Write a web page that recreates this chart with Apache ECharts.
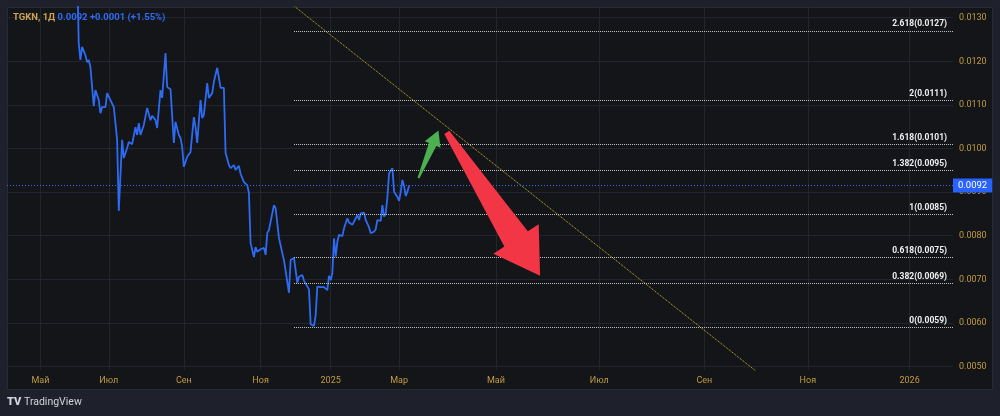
<!DOCTYPE html>
<html>
<head>
<meta charset="utf-8">
<title>TGKN</title>
<script src="https://cdn.jsdelivr.net/npm/echarts@6/dist/echarts.min.js"></script>
<style>
  html, body { margin: 0; padding: 0; background: #1e212b; }
  #chart { width: 1000px; height: 416px; }
</style>
</head>
<body>
<div id="chart"></div>
<script>
// bar index on the x axis (one slot per bar, as the source chart spaces them)
const monthDays = [20, 61, 106, 152, 194, 235, 293, 355, 418, 480, 541];
const monthNames = ['Май', 'Июл', 'Сен', 'Ноя', '2025', 'Мар', 'Май', 'Июл', 'Сен', 'Ноя', '2026'];
const yTicks = [0.005, 0.006, 0.007, 0.008, 0.009, 0.010, 0.011, 0.012, 0.013];

// TGKN daily close
const priceDays = [42, 43, 44, 45, 47, 48, 49, 50, 52, 53, 55, 56, 57, 59, 60, 61, 64, 65, 66, 67,
  69, 70, 72, 73, 75, 77, 78, 79, 80, 82, 84, 85, 86, 87, 89, 90, 92, 93, 95, 96,
  98, 100, 101, 103, 104, 105, 106, 108, 109, 110, 112, 113, 114, 116, 117, 118, 120, 121, 123, 124,
  126, 128, 130, 131, 133, 134, 136, 137, 139, 140, 141, 142, 144, 145, 146, 148, 149, 150, 152, 154,
  155, 156, 157, 160, 161, 163, 165, 166, 169, 170, 172, 173, 174, 175, 176, 177, 178, 179, 181, 182,
  184, 185, 186, 187, 188, 190, 192, 193, 194, 195, 196, 197, 198, 199, 201, 202, 204, 205, 206, 207,
  209, 210, 211, 212, 214, 215, 216, 217, 218, 220, 221, 222, 224, 225, 226, 227, 228, 229, 231, 232,
  234, 235, 236, 237, 238, 239, 240, 241];
const priceValues = [0.01420, 0.01242, 0.01203, 0.01233, 0.01214, 0.01198, 0.01203, 0.01187, 0.01097, 0.01134,
  0.01111, 0.01081, 0.01095, 0.01095, 0.01127, 0.01131, 0.01095, 0.01058, 0.01020, 0.00857,
  0.01020, 0.00978, 0.01001, 0.01015, 0.01010, 0.01049, 0.01031, 0.01058, 0.01031, 0.01054,
  0.01093, 0.01095, 0.01065, 0.01075, 0.01065, 0.01047, 0.01134, 0.01116, 0.01219, 0.01141,
  0.01136, 0.01013, 0.01061, 0.01031, 0.01024, 0.01003, 0.00958, 0.00981, 0.00985, 0.00992,
  0.01072, 0.01049, 0.01013, 0.01111, 0.01070, 0.01077, 0.01150, 0.01116, 0.01127, 0.01153,
  0.01185, 0.01139, 0.01139, 0.00990, 0.00962, 0.00955, 0.00962, 0.00951, 0.00960, 0.00942,
  0.00942, 0.00923, 0.00916, 0.00898, 0.00783, 0.00751, 0.00774, 0.00763, 0.00769, 0.00772,
  0.00756, 0.00806, 0.00813, 0.00870, 0.00863, 0.00795, 0.00760, 0.00744, 0.00669, 0.00744,
  0.00749, 0.00721, 0.00692, 0.00706, 0.00702, 0.00710, 0.00697, 0.00695, 0.00677, 0.00597,
  0.00593, 0.00618, 0.00683, 0.00687, 0.00682, 0.00682, 0.00675, 0.00708, 0.00698, 0.00714,
  0.00794, 0.00752, 0.00786, 0.00802, 0.00799, 0.00817, 0.00840, 0.00830, 0.00834, 0.00825,
  0.00840, 0.00847, 0.00836, 0.00851, 0.00853, 0.00836, 0.00828, 0.00819, 0.00806, 0.00809,
  0.00815, 0.00836, 0.00834, 0.00870, 0.00844, 0.00851, 0.00889, 0.00943, 0.00955, 0.00901,
  0.00889, 0.00880, 0.00901, 0.00928, 0.00914, 0.00891, 0.00901, 0.00915];

const lastPrice = 0.00915;
const lastLabel = '0.0092';
const changeLabel = '+0.0001 (+1.55%)';

// fibonacci extension drawn from the low
const fibRatios = ['0', '0.382', '0.618', '1', '1.382', '1.618', '2', '2.618'];
const fibValues = [0.0059, 0.0069, 0.0075, 0.0085, 0.0095, 0.0101, 0.0111, 0.0127];
const fibStartDay = 172;

// descending trend line (two anchors) and the two drawn arrows: [tailDay, tailPrice, tipDay, tipPrice]
const trendDays = [160, 460];
const trendValues = [0.01363, 0.00456];
const arrowUp = [246.6, 0.00932, 258.6, 0.01041];
const arrowDown = [263.6, 0.01037, 319.5, 0.00708];

const xMax = 567;
const yMin = 0.00492;
const yMax = 0.013245;

const gold = '#c29b3e';
const blue = '#2962ff';
const font = 'Roboto, "Liberation Sans", sans-serif';

// arrow shapes in pixels: tail width, shaft width at head, head width, head length
const arrowShapes = [
  { tail: 2, shaft: 8, headWidth: 17, head: 15 },
  { tail: 6, shaft: 28, headWidth: 54, head: 44 }
];

function renderArrow(params, api) {
  const tail = api.coord([api.value(0), api.value(1)]);
  const tip = api.coord([api.value(2), api.value(3)]);
  const s = arrowShapes[params.dataIndex];
  const dx = tip[0] - tail[0], dy = tip[1] - tail[1];
  const len = Math.sqrt(dx * dx + dy * dy);
  const ux = dx / len, uy = dy / len;
  const nx = -uy, ny = ux;
  const bx = tip[0] - ux * s.head, by = tip[1] - uy * s.head;
  const side = (x, y, w) => [x + nx * w / 2, y + ny * w / 2];
  const points = [
    side(tail[0], tail[1], s.tail),
    side(bx, by, s.shaft),
    side(bx, by, s.headWidth),
    tip,
    side(bx, by, -s.headWidth),
    side(bx, by, -s.shaft),
    side(tail[0], tail[1], -s.tail)
  ];
  return {
    type: 'polygon',
    shape: { points: points },
    style: { fill: api.visual('color') }
  };
}

const chart = echarts.init(document.getElementById('chart'));

const option = {
  backgroundColor: '#1e212b',
  animation: false,
  textStyle: { fontFamily: font },
  title: {
    left: 13,
    top: 13,
    padding: 0,
    text: '{a|TGKN, 1Д} {b|' + lastLabel + '} {b|' + changeLabel + '}',
    textStyle: {
      fontSize: 9.5,
      rich: {
        a: { color: '#c9a452', fontSize: 9.5, fontFamily: font },
        b: { color: '#2f6cf2', fontSize: 9.5, fontFamily: font }
      }
    }
  },
  graphic: {
    elements: [
      {
        type: 'rect',
        z: -10,
        shape: { x: 7.5, y: 7.5, width: 985, height: 382 },
        style: { fill: '#131519', stroke: '#262a33', lineWidth: 1 }
      },
      {
        type: 'text',
        left: 7,
        top: 397,
        style: { text: 'TV', fill: '#d1d4dc', fontSize: 11, fontWeight: 900, fontFamily: font }
      },
      {
        type: 'text',
        left: 24,
        top: 397,
        style: { text: 'TradingView', fill: '#d1d4dc', fontSize: 10.5, fontFamily: font }
      }
    ]
  },
  grid: { left: 7, right: 47, top: 7, bottom: 46, containLabel: false },
  xAxis: {
    type: 'value',
    min: 0,
    max: xMax,
    axisLine: { show: false },
    axisTick: { show: false, customValues: monthDays },
    splitLine: { show: true, lineStyle: { color: '#22252d', width: 1 } },
    axisLabel: {
      customValues: monthDays,
      color: gold,
      fontSize: 9,
      margin: 6,
      formatter: function (v) {
        const i = monthDays.indexOf(v);
        return i >= 0 ? monthNames[i] : '';
      }
    }
  },
  yAxis: {
    type: 'value',
    position: 'right',
    min: yMin,
    max: yMax,
    axisLine: { show: false },
    axisTick: { show: false, customValues: yTicks },
    splitLine: { show: true, lineStyle: { color: '#22252d', width: 1 } },
    axisLabel: {
      customValues: yTicks,
      color: gold,
      fontSize: 9,
      margin: 6,
      formatter: function (v) { return v.toFixed(4); }
    }
  },
  series: [
    {
      name: 'fib',
      type: 'line',
      data: [],
      silent: true,
      markLine: {
        silent: true,
        precision: 6,
        symbol: ['none', 'none'],
        lineStyle: { type: 'dotted', color: 'rgba(225,225,225,0.85)', width: 1 },
        label: {
          show: true,
          position: 'insideEndTop',
          distance: [6, 2],
          color: '#f0f0f0',
          fontSize: 8.5,
          fontWeight: 'bold',
          fontFamily: font
        },
        data: fibValues.map(function (v, i) {
          return [
            { coord: [fibStartDay, v], label: { formatter: fibRatios[i] + '(' + v.toFixed(4) + ')' } },
            { coord: [xMax, v] }
          ];
        })
      }
    },
    {
      name: 'trend',
      type: 'line',
      data: trendDays.map(function (d, i) { return [d, trendValues[i]]; }),
      showSymbol: false,
      silent: true,
      lineStyle: { type: 'dotted', color: '#d2bf2a', width: 1 }
    },
    {
      name: 'last',
      type: 'line',
      data: [[0, lastPrice], [xMax, lastPrice]],
      showSymbol: false,
      silent: true,
      clip: false,
      lineStyle: { type: [1, 2], color: '#3b70ff', width: 1 },
      endLabel: {
        show: true,
        distance: 0,
        formatter: lastLabel,
        color: '#ffffff',
        backgroundColor: blue,
        padding: [2, 5, 2, 5],
        fontSize: 9.5,
        fontFamily: font
      }
    },
    {
      name: 'TGKN',
      type: 'line',
      data: priceDays.map(function (d, i) { return [d, priceValues[i]]; }),
      showSymbol: false,
      lineStyle: { color: '#2e6bf3', width: 1.8 },
      z: 4
    },
    {
      name: 'arrows',
      type: 'custom',
      renderItem: renderArrow,
      encode: { x: [0, 2], y: [1, 3] },
      z: 5,
      data: [
        { value: arrowUp, itemStyle: { color: '#4caf50' } },
        { value: arrowDown, itemStyle: { color: '#f23645' } }
      ]
    }
  ]
};

chart.setOption(option);
</script>
</body>
</html>
